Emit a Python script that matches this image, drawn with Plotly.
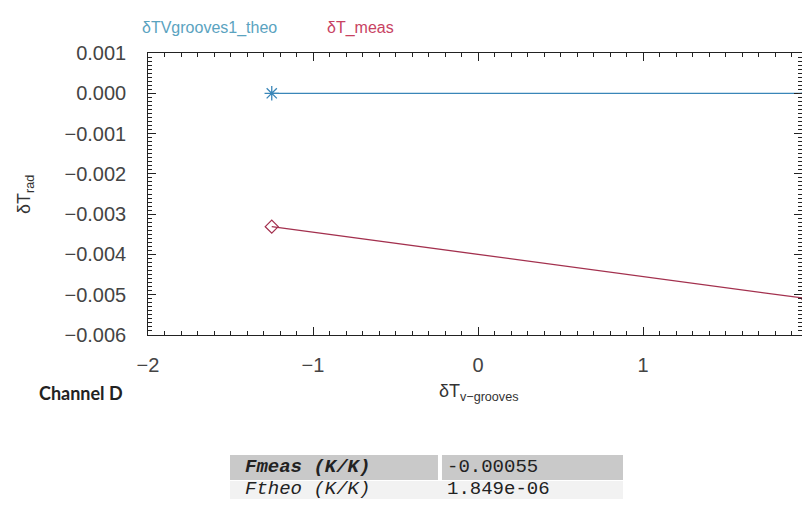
import plotly.graph_objects as go

# data
x_vals = [-1.25, 2.0]
theo_vals = [0.0, 0.0]
meas_vals = [-0.00331, -0.00510]
series_names = ['δTVgrooves1_theo', 'δT_meas']
table_labels = ['<b><i>Fmeas (K/K)</i></b>', '<i>Ftheo (K/K)</i>']
table_values = ['-0.00055', '1.849e-06']

theo_color = '#3a86b8'
meas_color = '#a3304e'

fig = go.Figure()

fig.add_trace(go.Scatter(
    name=series_names[0], x=x_vals, y=theo_vals, mode='lines+markers',
    line=dict(color=theo_color, width=1.3),
    marker=dict(symbol='asterisk-open', size=12, color=theo_color, line=dict(color=theo_color, width=1.3))))

fig.add_trace(go.Scatter(
    name=series_names[1], x=x_vals, y=meas_vals, mode='lines+markers',
    line=dict(color=meas_color, width=1.3),
    marker=dict(symbol='diamond-open', size=10, color=meas_color, line=dict(color=meas_color, width=1.3))))

axis_common = dict(showline=True, linecolor='#222', linewidth=1.2, mirror='allticks',
                   ticks='inside', ticklen=8, tickcolor='#222', showgrid=False, zeroline=False,
                   automargin=False, tickfont=dict(family='Liberation Sans', size=20, color='#444'))

fig.update_xaxes(range=[-2, 1.9636], dtick=1, tickformat='d', ticklabelstandoff=12,
                 minor=dict(dtick=0.1, ticks='inside', ticklen=4, tickcolor='#222'),
                 **axis_common)
fig.update_yaxes(range=[-0.006, 0.001], tick0=0, dtick=0.001, tickformat='.3f', domain=[0.3677, 1],
                 ticksuffix='\u00a0\u00a0\u00a0',
                 minor=dict(dtick=0.0001, ticks='inside', ticklen=4, tickcolor='#222'),
                 **axis_common)

# legend-like colored titles
fig.add_annotation(text=series_names[0], xref='paper', yref='paper', x=-0.0122, y=1.0561,
                   xanchor='left', yanchor='middle', showarrow=False,
                   font=dict(family='Liberation Sans', size=16, color='#5aa3bf'))
fig.add_annotation(text=series_names[1], xref='paper', yref='paper', x=0.2706, y=1.0561,
                   xanchor='left', yanchor='middle', showarrow=False,
                   font=dict(family='Liberation Sans', size=16, color='#c84262'))

# axis titles and channel label
fig.add_annotation(text='δT<sub>rad</sub>', xref='paper', yref='paper', x=-0.188, y=0.6816,
                   xanchor='center', yanchor='middle', textangle=-90, showarrow=False,
                   font=dict(family='Liberation Sans', size=18, color='#333'))
fig.add_annotation(text='δT<sub>v−grooves</sub>', xref='paper', yref='paper', x=0.5046, y=0.2377,
                   xanchor='center', yanchor='middle', showarrow=False,
                   font=dict(family='Liberation Sans', size=18, color='#333'))
fig.add_annotation(text='<b>Channel D</b>', xref='paper', yref='paper', x=-0.1697, y=0.2377,
                   xanchor='left', yanchor='middle', showarrow=False,
                   font=dict(family='Lato', size=18, color='#222'))

# result table: header row grey, second row light
fig.add_shape(type='rect', xref='paper', yref='paper', x0=0.1254, x1=0.4434, y0=0.0426, y1=0.0987,
              fillcolor='#c9c9c9', line_width=0, layer='below')
fig.add_shape(type='rect', xref='paper', yref='paper', x0=0.4495, x1=0.7263, y0=0.0426, y1=0.0987,
              fillcolor='#c9c9c9', line_width=0, layer='below')
fig.add_shape(type='rect', xref='paper', yref='paper', x0=0.1254, x1=0.7263, y0=0.0, y1=0.0404,
              fillcolor='#f2f2f2', line_width=0, layer='below')
for row, ypos in enumerate([0.0717, 0.0225]):
    fig.add_annotation(text=table_labels[row], xref='paper', yref='paper', x=0.1453, y=ypos,
                       xanchor='left', yanchor='middle', showarrow=False,
                       font=dict(family='Liberation Mono', size=19, color='#222'))
    fig.add_annotation(text=table_values[row], xref='paper', yref='paper', x=0.4541, y=ypos,
                       xanchor='left', yanchor='middle', showarrow=False,
                       font=dict(family='Liberation Mono', size=19, color='#222'))

fig.update_layout(width=794, height=491, margin=dict(l=140, r=0, t=45, b=0),
                  plot_bgcolor='white', paper_bgcolor='white', showlegend=False)

fig.write_html('out.html', config={'displayModeBar': False})
